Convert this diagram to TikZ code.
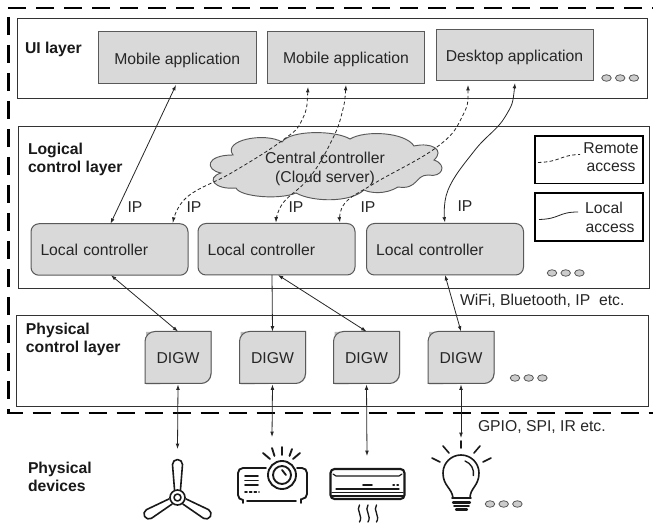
\documentclass[tikz,border=0pt]{standalone}
\usepackage{fontspec}
\setmainfont{Liberation Sans}
\usetikzlibrary{arrows.meta,calc,shapes.geometric}
\definecolor{boxfill}{HTML}{D9D9D9}
\definecolor{boxline}{HTML}{595959}
\definecolor{dotfill}{HTML}{CCCCCC}
\newcommand{\digwbox}[3]{%
  \begin{scope}[shift={(#2,#3)}]
    \fill[gray!55] (-32,-26) -- (33.5,-26) -- (33.5,16.5) arc[start angle=0,end angle=90,radius=9] -- (-32,26.5) -- cycle;
    \draw[boxline,fill=boxfill,line width=.75pt] (-33,-16.5) arc[start angle=180,end angle=270,x radius=10,y radius=10] -- (33,-26.5) -- (33,15.5) arc[start angle=0,end angle=90,x radius=10,y radius=10] -- (-33,25.5) -- cycle;
  \end{scope}
  \node[lbl,text height=9pt,text depth=0pt] (#1) at (#2,#3) {DIGW};}
\newcommand{\ellipsisdots}[3]{%
  \node[dotnode] (#1a) at (#2,#3) {};
  \node[dotnode] (#1b) at (#2+13.7,#3) {};
  \node[dotnode] (#1c) at (#2+27.4,#3) {};}
\tikzset{
  lbl/.style={inner sep=0pt,outer sep=0pt,font=\fontsize{11.8}{13.9}\selectfont,text=black!85},
  ttl/.style={inner sep=0pt,outer sep=0pt,font=\fontsize{11.8}{13.9}\selectfont\bfseries,align=left,anchor=west,text=black!90},
  layerbox/.style={draw=black!80,line width=.65pt,fill=white,inner sep=0pt,outer sep=0pt},
  appbox/.style={draw=boxline,line width=.75pt,fill=boxfill,inner sep=0pt,outer sep=0pt,font=\fontsize{11.8}{13.9}\selectfont,text=black!85,text height=9.4pt,text depth=0pt},
  lcbox/.style={appbox,rounded corners=6pt,minimum width=157*.75pt,minimum height=51.5*.75pt,align=left,text width=138*.75pt,inner xsep=0pt},
  dotnode/.style={draw=boxline,line width=.6pt,fill=dotfill,ellipse,minimum width=9.5*.75pt,minimum height=6.5*.75pt,inner sep=0pt},
  legbox/.style={draw=black,line width=1.15pt,fill=white,inner sep=0pt,outer sep=0pt,minimum width=108*.75pt,minimum height=47.5*.75pt},
  outerdash/.style={line width=2pt,black,dash pattern=on 13.5pt off 7.5pt},
  link/.style={line width=.6pt,black!85,{Latex[length=4pt,width=2.8pt]}-{Latex[length=4pt,width=2.8pt]}},
  linkb/.style={line width=.6pt,black!85,-{Latex[length=4pt,width=2.8pt]}},
  remote/.style={link,dash pattern=on 2.6pt off 1.8pt},
  curve/.style={smooth,tension=.7},
  icon/.style={line width=1.4pt,black!90,line cap=round,line join=round},
}
\begin{document}
\begin{tikzpicture}[x=.75pt,y=-.75pt]
\useasboundingbox (0,0) rectangle (653,523);
% layers
\node[layerbox,minimum width=629.5*.75pt,minimum height=80*.75pt] (ui) at (332.25,58) {};
\node[layerbox,minimum width=631*.75pt,minimum height=161.5*.75pt] (logic) at (334,207.25) {};
\node[layerbox,minimum width=631.5*.75pt,minimum height=90.5*.75pt] (phys) at (332.25,360.75) {};
% outer dashed frame
\coordinate (frameTL) at (8,8);
\coordinate (frameTR) at (653,8);
\coordinate (frameLT) at (8.5,17);
\coordinate (frameBL) at (8.5,413);
\coordinate (frameBR) at (653,413);
\draw[outerdash] (frameTL) -- (frameTR);
\draw[outerdash] (frameLT) -- (frameBL) -- (frameBR);
% titles
\node[ttl] (tui) at (25,49) {UI layer};
\node[ttl] (tlog) at (28,159.5) {Logical\\control layer};
\node[ttl] (tphy) at (26,339.5) {Physical\\control layer};
\node[ttl] (tdev) at (28,477) {Physical\\devices};
% applications
\node[appbox,minimum width=157.5*.75pt,minimum height=52*.75pt] (app1) at (177.25,58) {Mobile application};
\node[appbox,minimum width=157*.75pt,minimum height=52*.75pt] (app2) at (346,57.5) {Mobile application};
\node[appbox,minimum width=157*.75pt,minimum height=51.5*.75pt] (app3) at (514.5,55.25) {Desktop application};
% cloud
\draw[boxline,fill=boxfill,line width=.7pt] (221,173)
  .. controls (205,170) and (205,155) .. (233,155)
  .. controls (222,140) and (265,132) .. (282,142)
  .. controls (290,130) and (335,130) .. (350,139)
  .. controls (365,130) and (405,132) .. (414,146)
  .. controls (432,142) and (445,150) .. (434,160)
  .. controls (448,165) and (442,178) .. (428,175)
  .. controls (415,175) and (418,190) .. (398,187)
  .. controls (385,195) and (370,193) .. (364,190)
  .. controls (350,203) and (312,202) .. (296,193)
  .. controls (280,200) and (240,197) .. (236,188)
  .. controls (215,190) and (205,178) .. (221,173) -- cycle;
\node[lbl,align=center,font=\fontsize{11.8}{13.9}\selectfont] (cloud) at (325,169) {Central controller\\(Cloud server)};
% legend
\node[legbox] (legR) at (589,159.75) {};
\node[legbox] (legL) at (589,217) {};
\node[lbl,align=center,anchor=center] (legRt) at (611,157) {Remote\\access};
\node[lbl,align=center,anchor=center] (legLt) at (610,217.5) {\hspace*{-9pt}Local\\access};
\coordinate (r1) at (538,162.5); \coordinate (r2) at (580,154.5);
\coordinate (l1) at (539,219.5); \coordinate (l2) at (578,212);
\draw[line width=.6pt,black!85,dash pattern=on 2.6pt off 1.8pt] (r1) .. controls (560,162) and (560,155) .. (r2);
\draw[line width=.6pt,black!85] (l1) .. controls (560,219) and (558,212) .. (l2);
% local controllers
\node[lcbox] (lc1) at (109.5,249.5) {Local controller};
\node[lcbox] (lc2) at (276.5,249.25) {Local controller};
\node[lcbox] (lc3) at (445,249.25) {Local controller};
% DIGW
\digwbox{d1}{178}{358}
\digwbox{d2}{272.5}{358}
\digwbox{d3}{366.5}{358}
\digwbox{d4}{461}{358}
% ellipses
\ellipsisdots{ua}{606.5}{78}
\ellipsisdots{la}{552}{273}
\ellipsisdots{pa}{515}{378}
\ellipsisdots{da}{490}{504}
% device targets
\coordinate (fan) at (177.5,449);
\coordinate (proj) at (272,437);
\coordinate (ac) at (367,456);
\coordinate (bulb) at (461,438);
% vertical links
\draw[link] ($(app1.south west)+(77.5,1)$) -- ($(lc1.north west)+(79.5,0)$);
\coordinate (a2) at ($(app1.south east)+(52,3)$);
\coordinate (b2) at ($(lc1.north west)+(142,-1)$);
\draw[remote] plot[curve] coordinates {(a2) (302,120) (283,140) (233,172) (187,197) (b2)};
\coordinate (a3) at ($(app2.south west)+(78.5,1.5)$);
\coordinate (b3) at ($(lc2.north west)+(78,-1)$);
\draw[remote] plot[curve] coordinates {(a3) (342,113) (332,140) (310,177) (283,203) (b3)};
\coordinate (a4) at ($(app3.south west)+(32,4)$);
\coordinate (b4) at ($(lc2.north west)+(142,-1)$);
\draw[remote] plot[curve] coordinates {(a4) (462,117) (437,147) (375,183) (345,203) (b4)};
\coordinate (a5) at ($(app3.south west)+(79,2)$);
\coordinate (b5) at ($(lc3.north west)+(78.5,-1)$);
\draw[link] plot[curve] coordinates {(a5) (505,117) (475,150) (448,190) (b5)};
% controller to DIGW
\draw[link] ($(lc1.south west)+(80,0)$) -- (d1 |- 332,331.5);
\draw[linkb] ($(lc2.south west)+(74,0)$) -- (d2 |- 332,331.5);
\draw[link] ($(lc2.south west)+(80,0)$) -- (d3 |- 332,331.5);
\draw[link] ($(lc3.south west)+(78.5,0)$) -- (d4 |- 332,331.5);
% DIGW to device
\draw[link] (d1 |- 332,384.5) -- (fan);
\draw[link] (d2 |- 332,384.5) -- (proj);
\draw[link] (d3 |- 332,384.5) -- (ac);
\draw[link] (d4 |- 332,384.5) -- (bulb);
% protocol labels
\node[lbl,anchor=base] (ip1) at (135,213) {IP};
\node[lbl,anchor=base] (ip2) at (194,213) {IP};
\node[lbl,anchor=base] (ip3) at (296,213) {IP};
\node[lbl,anchor=base] (ip4) at (368,213) {IP};
\node[lbl,anchor=base] (ip5) at (465,212) {IP};
\node[lbl,anchor=base west] (wifi) at (460,306) {WiFi, Bluetooth, IP\ \ etc.};
\node[lbl,anchor=base west] (gpio) at (478,432) {GPIO, SPI, IR etc.};
% fan icon
\begin{scope}[icon,line width=1.2pt,shift={(177.5,497.5)}]
  \foreach \a in {0,120,240}{
    \draw[rotate=\a] (-3,-8) -- (-5,-33) arc[start angle=180,end angle=360,radius=5] -- (3,-8);
  }
  \draw[fill=white] (0,0) circle[radius=7.5];
  \draw (0,0) circle[radius=3.5];
\end{scope}
% projector icon
\begin{scope}[icon]
  \draw (266,468) -- (243,468) arc[start angle=270,end angle=180,radius=5] -- (238,495) arc[start angle=180,end angle=90,radius=5];
  \draw (297,468) -- (302,468) arc[start angle=270,end angle=360,radius=5] -- (307,494) arc[start angle=0,end angle=90,radius=5];
  \draw (247,501) -- (296,501);
  \draw (243,500) -- (243,503); \draw (301,499) -- (301,503);
  \draw (282,475) circle[radius=14];
  \draw (282,475) circle[radius=9];
  \draw (282,470) -- (286,475);
  \draw (245,476) -- (258,476); \draw (245,480.5) -- (258,480.5); \draw (245,485) -- (258,485);
  \draw[line width=1.3pt,dash pattern=on 1.5pt off 2pt] (245,492) -- (259,492);
  \draw (282,447) -- (282,455);
  \draw (272,448) -- (274.5,456);
  \draw (292,449) -- (289.5,456);
  \draw (263,453) -- (270,459);
  \draw (300,453) -- (293,459);
\end{scope}
% air conditioner icon
\begin{scope}[icon]
  \draw[rounded corners=3pt,line width=1.6pt] (330.5,499) -- (330.5,469) -- (404.5,469) -- (404.5,499) -- cycle;
  \draw[line width=.9pt] (333,474) -- (336,476) -- (399,476) -- (402,474);
  \draw (363,485) -- (372,485);
  \draw[line width=1.1pt,dash pattern=on 1pt off 2pt] (393,485) -- (399,485);
  \draw[line width=1pt] (336,489) -- (399,489); 
  \draw[line width=1pt] (332,492.5) -- (403,492.5);
  \draw[line width=1pt] (332,496) -- (403,496);
  \foreach \x in {359.5,368,376.5}{
    \draw[line width=1pt] (\x,505) .. controls (\x-4,510) and (\x+4,516) .. (\x,522);
  }
\end{scope}
% bulb icon
\begin{scope}[icon,line width=1.2pt]
  \draw (453,498) .. controls (452,488) and (443,486) .. (443,473) arc[start angle=180,end angle=360,radius=18] .. controls (479,486) and (470,488) .. (470,498);
  \draw (452,498) -- (471,498);
  \draw[line width=1.6pt] (453,502.5) -- (470,502.5);
  \draw[line width=1.4pt] (454,506) -- (469,506);
  \draw[line width=1.6pt] (456,509.5) -- (467,509.5);
  \draw[line width=1pt] (465,461) arc[start angle=-70,end angle=10,radius=13];
  \draw (461,441) -- (461,448);
  \draw (443,446) -- (449,453);
  \draw (480,446) -- (474,453);
  \draw (432,458) -- (440,462);
  \draw (491,458) -- (483,462);
\end{scope}
\end{tikzpicture}
\end{document}
